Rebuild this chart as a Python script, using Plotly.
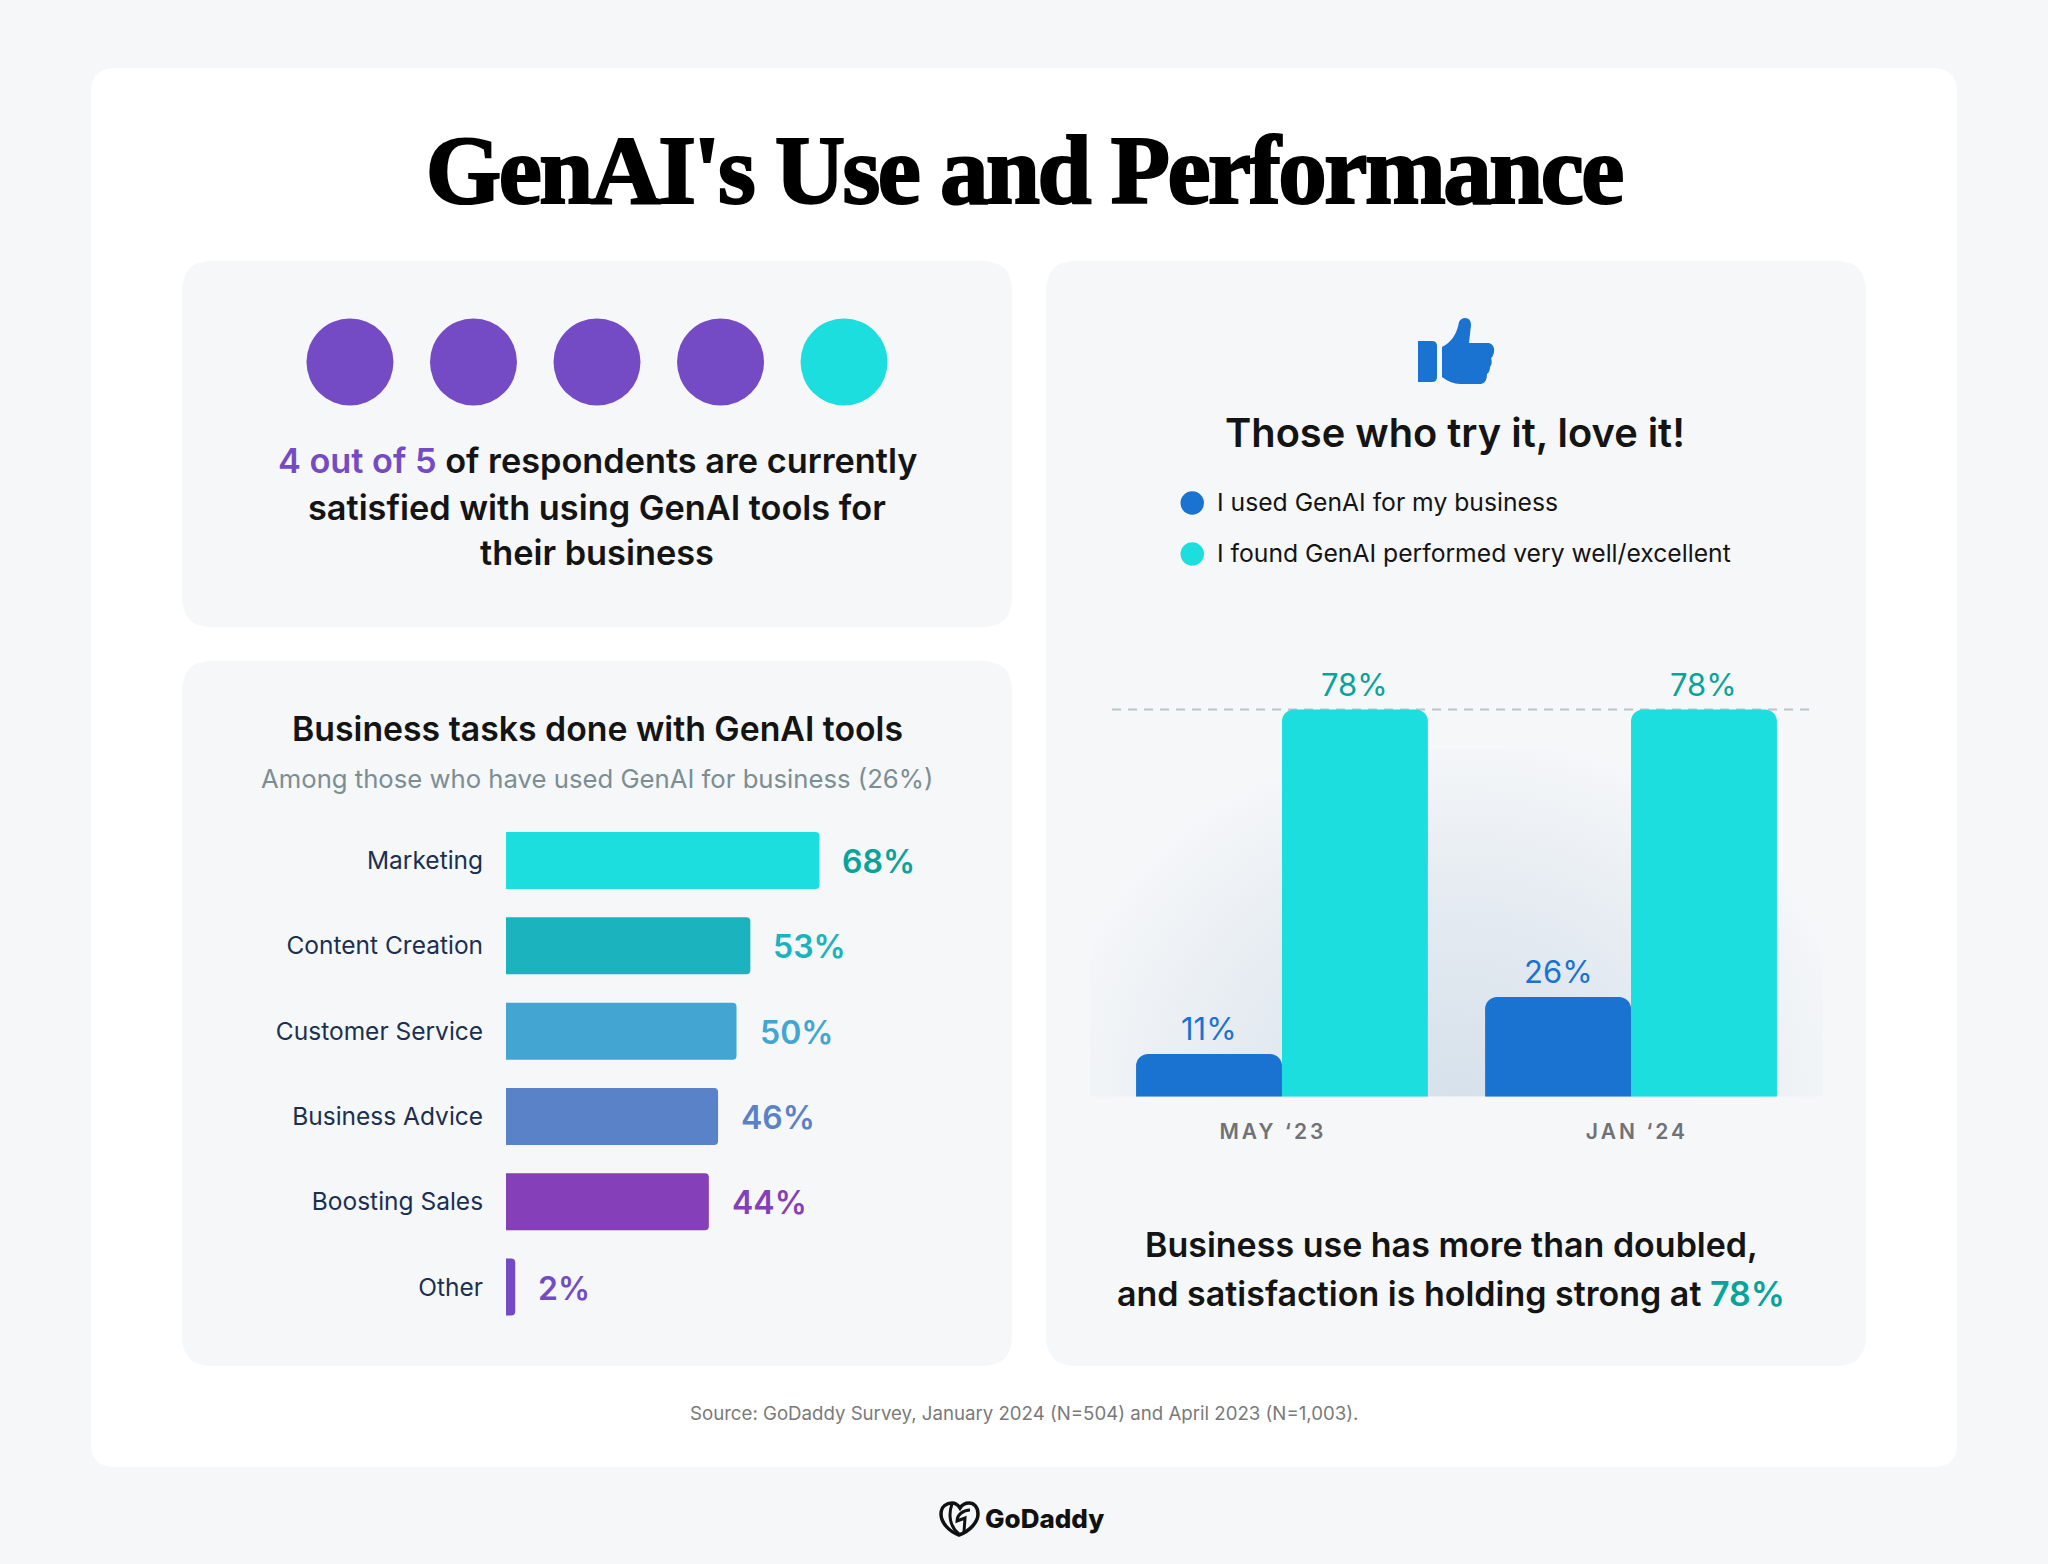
import base64

import plotly.graph_objs as go


task_names = ['Marketing', 'Content Creation', 'Customer Service', 'Business Advice', 'Boosting Sales', 'Other']
task_values = [68, 53, 50, 46, 44, 2]
task_bar_colors = ['#1CDEDF', '#1AB3BE', '#42A5D2', '#5A82C8', '#853FB9', '#744BC4']
task_text_colors = ['#0AA39C', '#1AB3BE', '#42A5D2', '#5A82C8', '#853FB9', '#744BC4']

wave_positions = [0, 1]
wave_names = ['MAY ‘23', 'JAN ‘24']
series_names = ['I used GenAI for my business', 'I found GenAI performed very well/excellent']
used_labels = ['11%', '26%']
found_labels = ['78%', '78%']
used_heights = [8.6, 20.1]
found_heights = [78, 78]

satisfied_slots = [1, 2, 3, 4, 5]
satisfied_flags = [True, True, True, True, False]

BLUE = '#1A73D1'
TEAL = '#1CDEDF'
DARK_TEAL = '#0AA39C'
PURPLE = '#744BC4'
INK = '#141414'
PAGE = '#F5F7F9'
SANS = 'Inter'

WIDTH = 2048
HEIGHT = 1564


def paperX(x):
    return x / WIDTH


def paperY(y):
    return 1 - y / HEIGHT


class Plot(object):

    shapes = []

    notes = []


    def roundedBox(self, x0, y0, x1, y1, r, color):
        '''
        rounded rectangle, in pixels of the page
        '''

        left, right = paperX(x0), paperX(x1)
        top, bottom = paperY(y0), paperY(y1)
        rx, ry = r / WIDTH, r / HEIGHT

        path = (f'M {left + rx} {top} L {right - rx} {top} Q {right} {top} {right} {top - ry} '
                f'L {right} {bottom + ry} Q {right} {bottom} {right - rx} {bottom} '
                f'L {left + rx} {bottom} Q {left} {bottom} {left} {bottom + ry} '
                f'L {left} {top - ry} Q {left} {top} {left + rx} {top} Z')

        self.shapes.append(dict(type = 'path', path = path, xref = 'paper', yref = 'paper',
            fillcolor = color, line = dict(width = 0), layer = 'below'))


    def outline(self, points, color, width = 0, fill = True):
        '''
        freehand path from (command, x, y, ...) tuples in pixels of the page
        '''

        parts = []
        for point in points:
            parts.append(point[0])
            for i in range(1, len(point), 2):
                parts.append(f'{paperX(point[i])} {paperY(point[i + 1])}')

        self.shapes.append(dict(type = 'path', path = ' '.join(parts), xref = 'paper', yref = 'paper',
            fillcolor = color if fill else 'rgba(0,0,0,0)',
            line = dict(width = width, color = color), layer = 'above'))


    def note(self, x, y, text, size, color = INK, weight = 400, family = SANS, anchor = 'center'):
        '''
        one text placed in pixels of the page
        '''

        self.notes.append(dict(x = paperX(x), y = paperY(y), xref = 'paper', yref = 'paper',
            text = text, showarrow = False, xanchor = anchor, yanchor = 'middle', align = 'center',
            font = dict(family = family, size = size, color = color, weight = weight)))


    def barLabels(self, positions, heights, labels, shift, color):
        '''
        percent labels above the vertical bars
        '''

        for position, height, label in zip(positions, heights, labels):
            self.notes.append(dict(x = position + shift, y = height, xref = 'x2', yref = 'y2', text = label,
                showarrow = False, xanchor = 'center', yanchor = 'bottom', yshift = 5,
                font = dict(family = SANS, size = 31, color = color)))


    def buildTraces(self):
        '''
        all the traces of the three small charts
        '''

        self.trace = [
            go.Bar(
                x = task_values,
                y = task_names,
                orientation = 'h',
                width = 0.668,
                marker = dict(color = task_bar_colors, cornerradius = 4, line = dict(width = 0)),
                hoverinfo = 'x+y',
                xaxis = 'x',
                yaxis = 'y'
            ),
            go.Bar(
                x = wave_positions,
                y = used_heights,
                name = series_names[0],
                width = 0.418,
                offset = -0.418,
                marker = dict(color = BLUE, cornerradius = 12, line = dict(width = 0)),
                xaxis = 'x2',
                yaxis = 'y2'
            ),
            go.Bar(
                x = wave_positions,
                y = found_heights,
                name = series_names[1],
                width = 0.418,
                offset = 0,
                marker = dict(color = TEAL, cornerradius = 12, line = dict(width = 0)),
                xaxis = 'x2',
                yaxis = 'y2'
            ),
            go.Scatter(
                x = satisfied_slots,
                y = [1 for slot in satisfied_slots],
                mode = 'markers',
                marker = dict(
                    size = 87,
                    color = [PURPLE if flag else TEAL for flag in satisfied_flags],
                    line = dict(width = 0)
                ),
                cliponaxis = False,
                xaxis = 'x3',
                yaxis = 'y3'
            )
        ]

        return self.trace


    def buildDecor(self):
        '''
        cards, icons and all the loose texts
        '''

        self.shapes = []
        self.notes = []

        self.roundedBox(91, 68, 1957, 1467, 24, '#FFFFFF')
        self.roundedBox(182, 261, 1012, 627, 30, PAGE)
        self.roundedBox(182, 661, 1012, 1366, 30, PAGE)
        self.roundedBox(1046, 261, 1866, 1366, 30, PAGE)

        self.shapes.append(dict(type = 'line', xref = 'paper', yref = 'y2',
            x0 = paperX(1112), x1 = paperX(1810), y0 = found_heights[0], y1 = found_heights[0],
            line = dict(color = '#BAC3CE', width = 2, dash = '9px,7px'), layer = 'below'))

        # thumb
        self.outline([('M', 1418, 341), ('L', 1432, 341), ('Q', 1437, 341, 1437, 346), ('L', 1437, 377),
            ('Q', 1437, 382, 1432, 382), ('L', 1418, 382), ('Z',)], BLUE)
        self.outline([('M', 1442, 347), ('Q', 1456, 340, 1459, 322), ('Q', 1461, 318, 1465, 318),
            ('Q', 1471, 318, 1471, 325), ('L', 1469, 343), ('L', 1489, 343), ('Q', 1495, 345, 1494, 352),
            ('Q', 1493, 357, 1491, 358), ('Q', 1493, 363, 1490, 367), ('Q', 1490, 372, 1487, 374),
            ('Q', 1487, 383, 1481, 384), ('L', 1460, 384), ('Q', 1451, 384, 1442, 377), ('Z',)], BLUE)

        # logo
        self.outline([('M', 959, 1535), ('C', 948, 1531, 941, 1522, 941, 1514), ('C', 941, 1506, 947, 1503, 952, 1503),
            ('C', 956, 1503, 958, 1505, 960, 1508), ('C', 962, 1505, 965, 1503, 969, 1503),
            ('C', 974, 1503, 978, 1507, 978, 1514), ('C', 978, 1522, 970, 1531, 959, 1535), ('Z',)],
            '#111111', width = 3.5, fill = False)
        self.outline([('M', 952, 1504), ('C', 948, 1515, 950, 1527, 959, 1534), ('M', 970, 1510),
            ('C', 963, 1510, 957, 1515, 957, 1521), ('L', 965, 1518), ('L', 964, 1532)],
            '#111111', width = 3, fill = False)

        # legend dots
        for y, color in zip([503, 554], [BLUE, TEAL]):
            self.shapes.append(dict(type = 'circle', xref = 'paper', yref = 'paper',
                x0 = paperX(1180.5), x1 = paperX(1204), y0 = paperY(y - 11.7), y1 = paperY(y + 11.7),
                fillcolor = color, line = dict(width = 0), layer = 'above'))

        self.note(1024, 170, "GenAI's Use and Performance", 97, color = '#000000', weight = 700, family = 'Liberation Serif')
        self.note(1044.5, 1518, 'GoDaddy', 26, color = '#111111', weight = 800)
        self.note(597, 461, f'<span style="color:{PURPLE}">4 out of 5</span> of respondents are currently', 34.3, weight = 600)
        self.note(597, 507, 'satisfied with using GenAI tools for', 34.3, weight = 600)
        self.note(597, 552, 'their business', 34.3, weight = 600)
        self.note(597, 728, 'Business tasks done with GenAI tools', 33.8, weight = 600)
        self.note(597, 779, 'Among those who have used GenAI for business (26%)', 25.7, color = '#7B8E93')
        self.note(1455, 433, 'Those who try it, love it!', 39.8, weight = 600)
        self.note(1215, 502, series_names[0], 24.7, anchor = 'left')
        self.note(1215, 553, series_names[1], 24.7, anchor = 'left')
        self.note(1451, 1244, 'Business use has more than doubled,', 34, weight = 600)
        self.note(1451, 1293, f'and satisfaction is holding strong at <span style="color:{DARK_TEAL}">78%</span>', 34, weight = 600)
        self.note(1024, 1413, 'Source: GoDaddy Survey, January 2024 (N=504) and April 2023 (N=1,003).', 18.65, color = '#7A7A7A')

        # values next to the horizontal bars
        for name, value, color in zip(task_names, task_values, task_text_colors):
            self.notes.append(dict(x = value, y = name, xref = 'x', yref = 'y', text = f'{value}%',
                showarrow = False, xanchor = 'left', xshift = 21, yshift = -1,
                font = dict(family = SANS, size = 32, color = color, weight = 600)))

        self.barLabels(wave_positions, used_heights, used_labels, -0.209, BLUE)
        self.barLabels(wave_positions, found_heights, found_labels, 0.209, DARK_TEAL)


    def buildLayout(self):
        '''
        build the layout customizations
        '''

        glow = ('<svg xmlns="http://www.w3.org/2000/svg" width="100" height="100" viewBox="0 0 100 100">'
                '<defs><radialGradient id="g" gradientUnits="userSpaceOnUse" cx="0" cy="0" r="1" '
                'gradientTransform="translate(50,100) scale(56,105)">'
                '<stop offset="0" stop-color="#D6E1EB"/><stop offset="0.55" stop-color="#E5EBF1"/>'
                '<stop offset="1" stop-color="#F5F7F9"/></radialGradient></defs>'
                '<rect width="100" height="100" fill="url(#g)"/></svg>')

        self.layout = go.Layout(
            width = WIDTH,
            height = HEIGHT,
            margin = dict(l = 0, r = 0, t = 0, b = 0),
            paper_bgcolor = PAGE,
            plot_bgcolor = 'rgba(0,0,0,0)',
            showlegend = False,
            barmode = 'overlay',
            shapes = self.shapes,
            annotations = self.notes,
            images = [dict(
                source = 'data:image/svg+xml;base64,' + base64.b64encode(glow.encode()).decode(),
                xref = 'x2', yref = 'y2', x = -0.55, y = 70, sizex = 2.1, sizey = 70,
                xanchor = 'left', yanchor = 'top', sizing = 'stretch', layer = 'below'
            )],
            xaxis = dict(domain = [paperX(506), paperX(967)], range = [0, 100], visible = False),
            yaxis = dict(
                domain = [paperY(1329.7), paperY(817.9)],
                categoryorder = 'array',
                categoryarray = task_names,
                autorange = 'reversed',
                showgrid = False,
                zeroline = False,
                showline = False,
                ticks = 'outside',
                ticklen = 17,
                tickcolor = 'rgba(0,0,0,0)',
                tickfont = dict(family = SANS, size = 24.5, color = '#1B3050')
            ),
            xaxis2 = dict(
                anchor = 'y2',
                domain = [paperX(1090), paperX(1823)],
                range = [-0.55, 1.55],
                tickvals = [-0.026, 1.017],
                ticktext = wave_names,
                showgrid = False,
                zeroline = False,
                showline = False,
                ticks = 'outside',
                ticklen = 16,
                tickcolor = 'rgba(0,0,0,0)',
                tickfont = dict(family = SANS, size = 21, color = '#6F7276', weight = 600)
            ),
            yaxis2 = dict(anchor = 'x2', domain = [paperY(1096.7), paperY(650)], range = [0, 90], visible = False),
            xaxis3 = dict(anchor = 'y3', domain = [paperX(288.2), paperX(905.8)], range = [0.5, 5.5], visible = False),
            yaxis3 = dict(anchor = 'x3', domain = [paperY(400), paperY(324)], visible = False)
        )

        return self.layout


    def buildFigure(self):
        '''
        write the final plot
        '''

        fig = go.Figure(data = self.trace, layout = self.layout)
        fig.write_html('out.html', config = dict(displayModeBar = False), post_script = (
            "document.body.style.margin = '0';"
            "var s = document.createElement('style');"
            "s.textContent = '.x2tick text {letter-spacing: 3px}"
            " .annotation[data-index=\"0\"] text {letter-spacing: -2.5px; stroke: #000; stroke-width: 2.2px}';"
            "document.head.appendChild(s);"
        ))


if __name__ == '__main__':
    plot = Plot()
    plot.buildTraces()
    plot.buildDecor()
    plot.buildLayout()
    plot.buildFigure()
